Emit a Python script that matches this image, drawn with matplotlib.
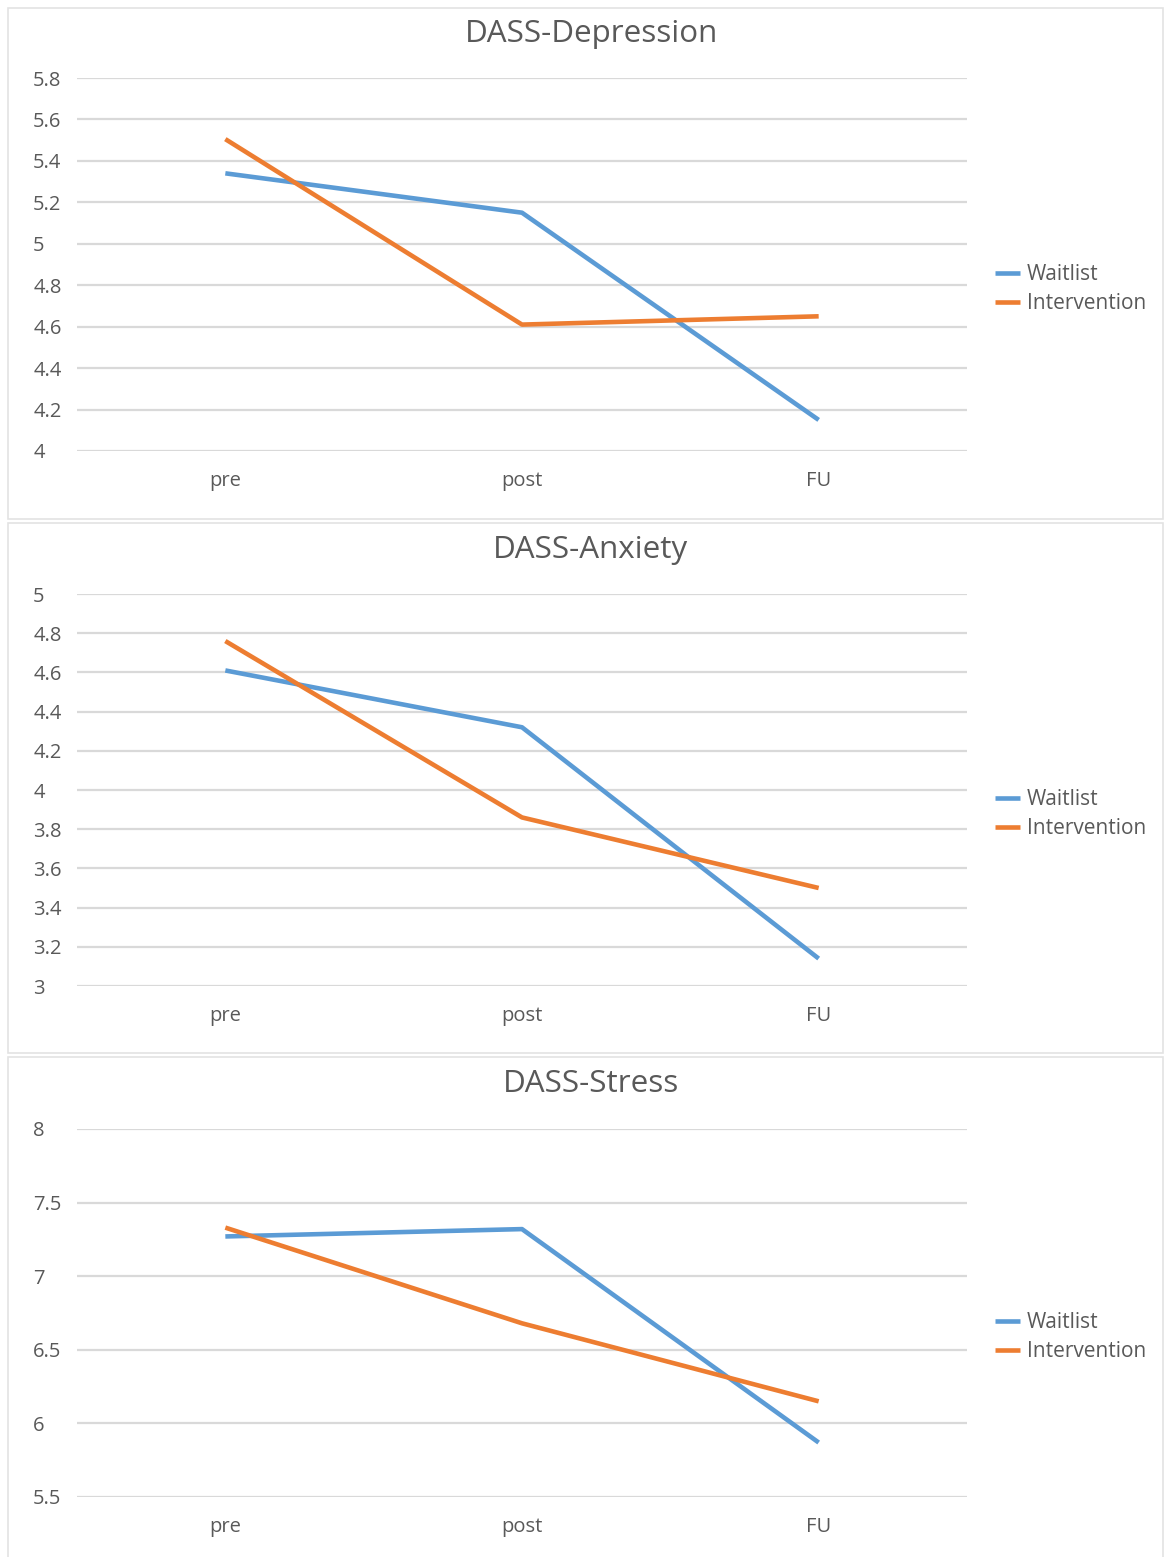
import matplotlib
matplotlib.use("Agg")
import matplotlib.pyplot as plt
from matplotlib.patches import Rectangle
from matplotlib.ticker import FuncFormatter, MultipleLocator

plt.rcParams['font.family'] = ['Open Sans', 'DejaVu Sans']

# Data
timepoints = ["pre", "post", "FU"]
titles = ["DASS-Depression", "DASS-Anxiety", "DASS-Stress"]
waitlist_depression = [5.34, 5.15, 4.15]
intervention_depression = [5.505, 4.61, 4.65]
waitlist_anxiety = [4.61, 4.32, 3.14]
intervention_anxiety = [4.76, 3.86, 3.50]
waitlist_stress = [7.27, 7.32, 5.87]
intervention_stress = [7.33, 6.68, 6.15]
y_ranges = [(4.0, 5.8, 0.2), (3.0, 5.0, 0.2), (5.5, 8.0, 0.5)]

W, H = 1166, 1557
fig = plt.figure(figsize=(W / 100, H / 100), dpi=100)

BLUE = "#5B9BD5"
ORANGE = "#ED7D31"
TEXT = "#595959"
GRID = "#D9D9D9"

# pixel layout of each chart block: (frame top, frame bottom, plot top, plot bottom, title y, legend y)
layout = [
    (8, 519, 78, 451, 34, 289),
    (523, 1053, 594, 986, 550, 814),
    (1057, 1562, 1129, 1497, 1084, 1337),
]
plot_left, plot_right = 77, 967

series = [
    (waitlist_depression, intervention_depression),
    (waitlist_anxiety, intervention_anxiety),
    (waitlist_stress, intervention_stress),
]

fmt = FuncFormatter(lambda v, p: f"{v:g}")

for (ftop, fbot, ptop, pbot, ty, ly), title, (wl, iv), (y0, y1, step) in zip(
        layout, titles, series, y_ranges):
    fig.add_artist(Rectangle((8 / W, 1 - fbot / H), (1163 - 8) / W, (fbot - ftop) / H,
                             transform=fig.transFigure, fill=False,
                             edgecolor="#E3E3E3", linewidth=1.2))
    ax = fig.add_axes([plot_left / W, 1 - pbot / H,
                       (plot_right - plot_left) / W, (pbot - ptop) / H])
    x = range(len(timepoints))
    ax.plot(x, wl, color=BLUE, lw=3.3, label="Waitlist", solid_capstyle="butt", zorder=3)
    ax.plot(x, iv, color=ORANGE, lw=3.3, label="Intervention", solid_capstyle="butt", zorder=3)
    ax.set_xlim(-0.5, len(timepoints) - 0.5)
    ax.set_ylim(y0, y1)
    ax.yaxis.set_major_locator(MultipleLocator(step))
    ax.yaxis.set_major_formatter(fmt)
    ax.set_xticks(list(x))
    ax.set_xticklabels(timepoints)
    ax.grid(axis="y", color=GRID, lw=1.6)
    ax.set_axisbelow(True)
    for s in ax.spines.values():
        s.set_visible(False)
    ax.tick_params(axis="both", length=0, labelsize=14.5, labelcolor=TEXT)
    ax.tick_params(axis="x", pad=14.5)
    ax.tick_params(axis="y", pad=31.5)
    for lab in ax.get_yticklabels():
        lab.set_horizontalalignment("left")
    fig.text(591 / W, 1 - ty / H, title, ha="center", va="center",
             fontsize=22.6, color=TEXT)
    ax.legend(loc="center left", bbox_to_anchor=(995 / W, 1 - ly / H),
              bbox_transform=fig.transFigure, frameon=False, fontsize=15,
              labelcolor=TEXT, handlelength=1.2, handletextpad=0.34,
              labelspacing=0.4, borderpad=0, borderaxespad=0)

fig.savefig("out.png", dpi=100, facecolor="white")
